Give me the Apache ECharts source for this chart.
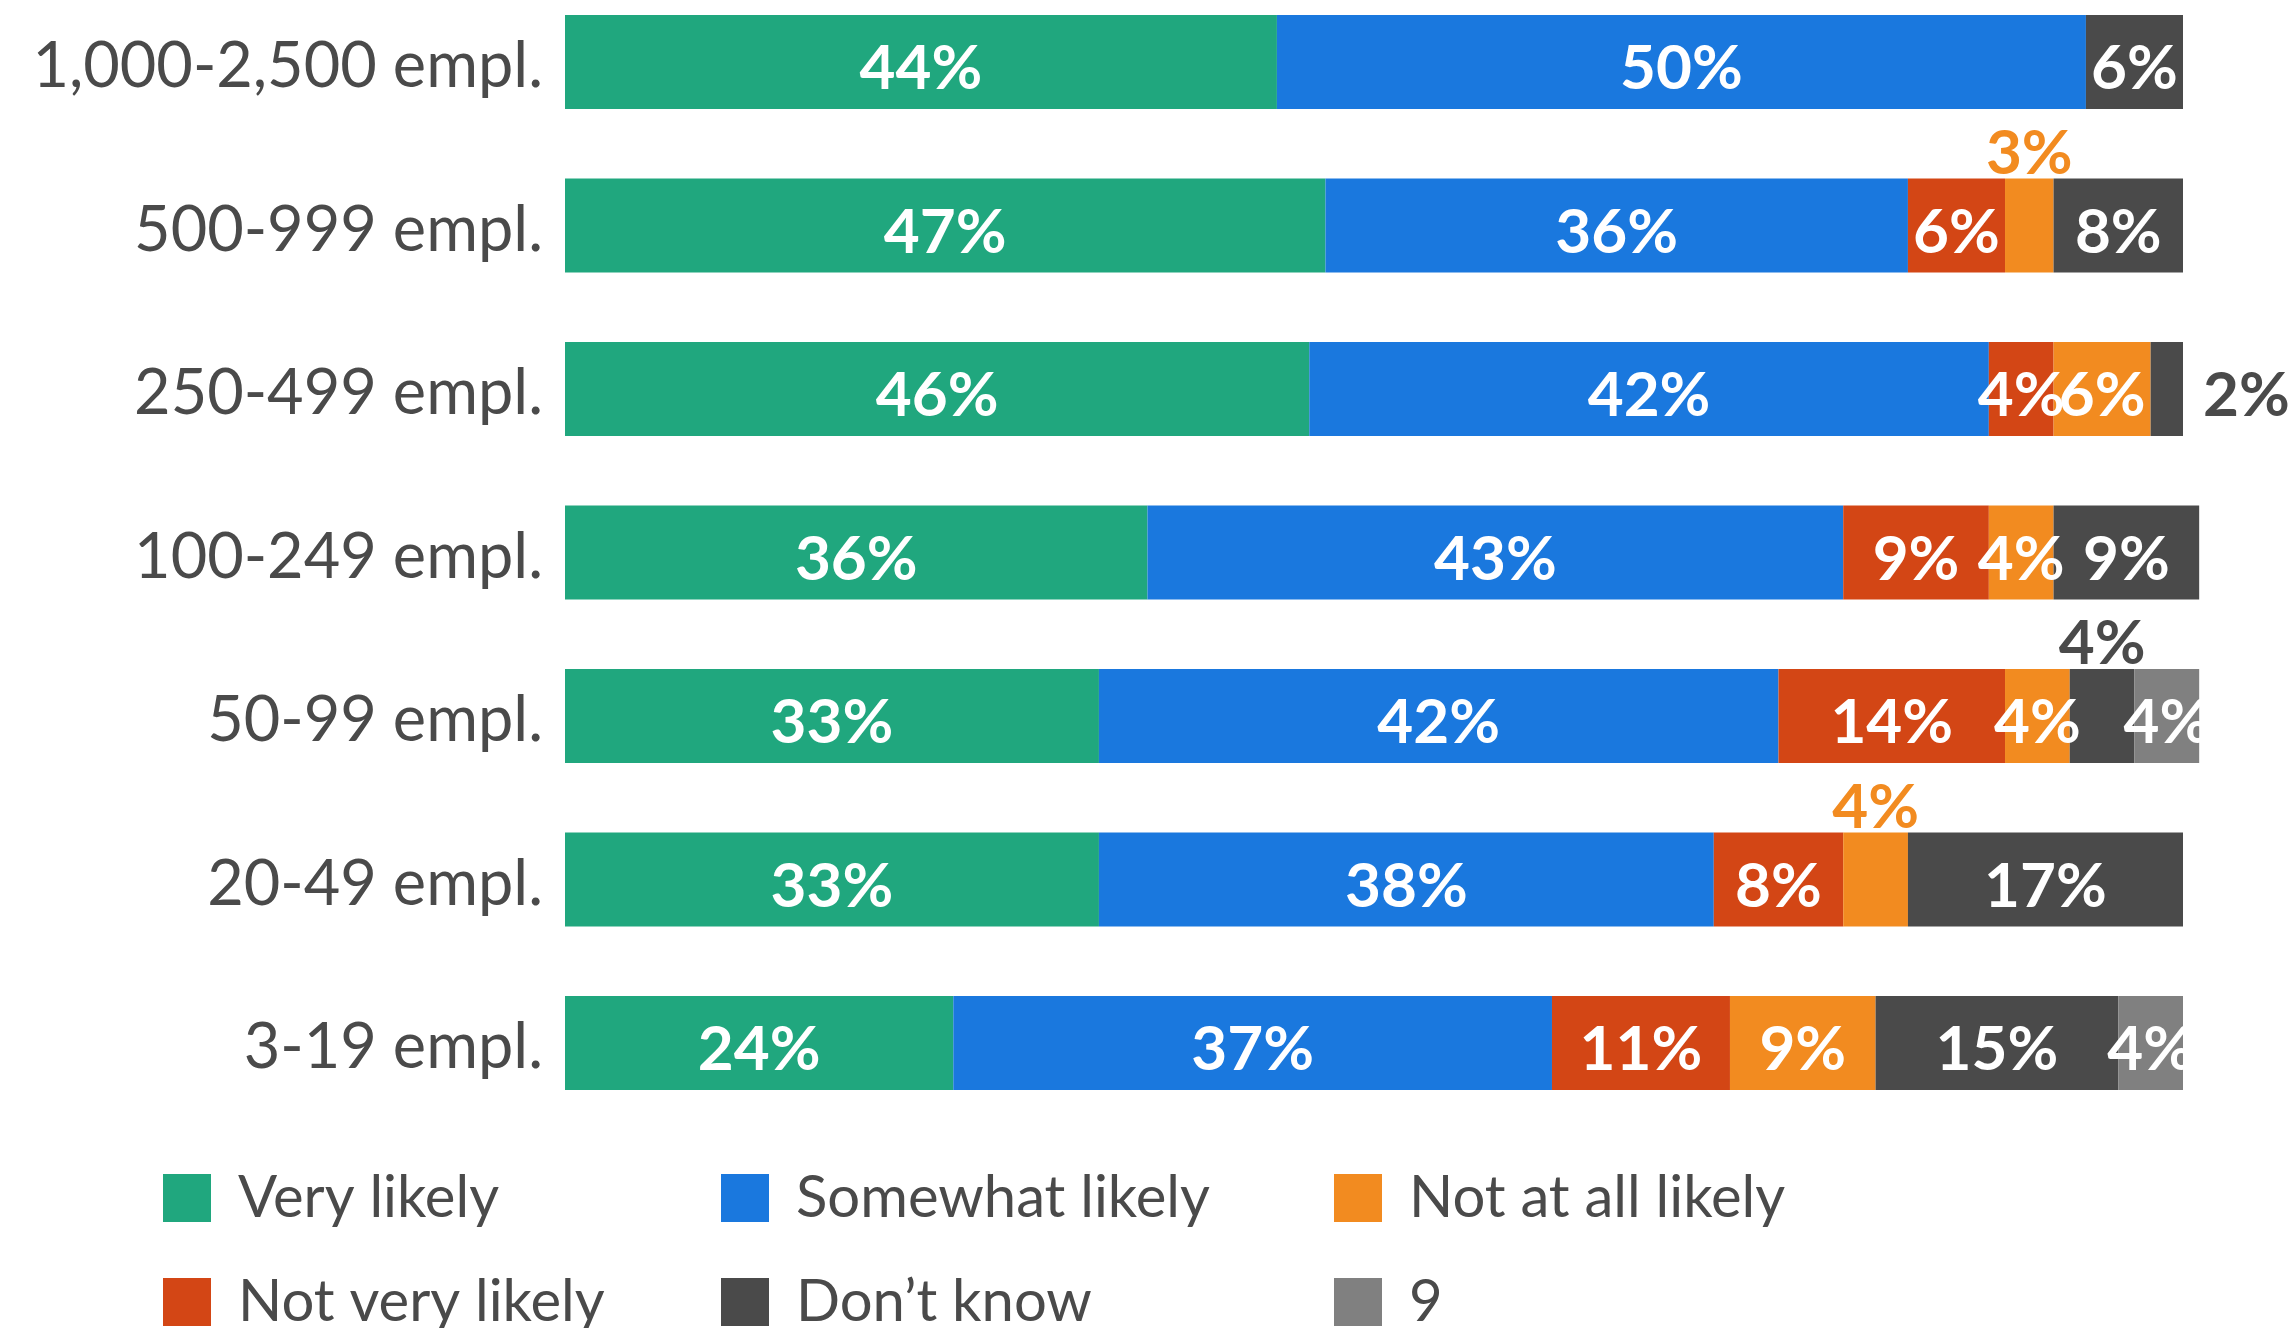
<!DOCTYPE html>
<html>
<head>
<meta charset="utf-8">
<script src="https://cdn.jsdelivr.net/npm/echarts@6/dist/echarts.min.js"></script>
<style>
  html, body { margin: 0; padding: 0; background: #ffffff; }
  #chart { width: 2295px; height: 1328px; }
</style>
</head>
<body>
<div id="chart"></div>
<script>
// Company size groups, top to bottom
const categories = ['1,000-2,500 empl.', '500-999 empl.', '250-499 empl.', '100-249 empl.', '50-99 empl.', '20-49 empl.', '3-19 empl.'];

// Share of answers per group (%); null = no answer in that group
const veryLikely     = [44, 47, 46, 36, 33, 33, 24];
const somewhatLikely = [50, 36, 42, 43, 42, 38, 37];
const notVeryLikely  = [null, 6, 4, 9, 14, 8, 11];
const notAtAllLikely = [null, 3, 6, 4, 4, 4, 9];
const dontKnow       = [6, 8, 2, 9, 4, 17, 15];
const nine           = [null, null, null, null, 4, null, 4];

const FONT = 'Lato';
const TEXT = '#4a4a4a';

// Stack order left to right
const seriesDefs = [
  { name: 'Very likely',       data: veryLikely,     color: '#20a77e' },
  { name: 'Somewhat likely',   data: somewhatLikely, color: '#1a78de' },
  { name: 'Not very likely',   data: notVeryLikely,  color: '#d34615' },
  { name: 'Not at all likely', data: notAtAllLikely, color: '#f28b20' },
  { name: 'Don\u2019t know',   data: dontKnow,       color: '#4a4a4a' },
  { name: '9',                 data: nine,           color: '#808080' }
];

// Narrow segments whose label sits outside the bar (row index -> position)
const outsideLabels = {
  'Not at all likely': { 1: 'top', 5: 'top' },
  'Don\u2019t know': { 2: 'right', 4: 'top' }
};

const series = seriesDefs.map(def => {
  const overrides = outsideLabels[def.name] || {};
  return {
    name: def.name,
    type: 'bar',
    stack: 'total',
    barWidth: 94,
    clip: false,
    itemStyle: { color: def.color },
    label: {
      show: true,
      position: 'inside',
      offset: [0, 7],
      formatter: p => (p.value == null ? '' : p.value + '%'),
      color: '#ffffff',
      fontFamily: FONT,
      fontWeight: 'bold',
      fontSize: 62
    },
    data: def.data.map((v, i) => {
      const pos = overrides[i];
      if (!pos || v == null) return v;
      return {
        value: v,
        label: {
          position: pos,
          distance: pos === 'top' ? -4 : 20,
          offset: pos === 'top' ? [0, 2] : [0, 7],
          color: def.name === 'Don\u2019t know' ? TEXT : def.color
        }
      };
    })
  };
});

// Legend laid out as a 3 x 2 grid
const legendCells = [
  { name: 'Very likely',       left: 163,  top: 1169 },
  { name: 'Somewhat likely',   left: 721,  top: 1169 },
  { name: 'Not at all likely', left: 1334, top: 1169 },
  { name: 'Not very likely',   left: 163,  top: 1273 },
  { name: 'Don\u2019t know',   left: 721,  top: 1273 },
  { name: '9',                 left: 1334, top: 1273 }
];

const legends = legendCells.map(c => ({
  data: [c.name],
  left: c.left,
  top: c.top,
  padding: 0,
  icon: 'rect',
  itemWidth: 48,
  itemHeight: 48,
  selectedMode: false,
  textStyle: {
    fontFamily: FONT,
    fontSize: 58,
    color: TEXT,
    padding: [0, 0, 0, 22]
  }
}));

const chart = echarts.init(document.getElementById('chart'), null, { renderer: 'canvas' });
chart.setOption({
  animation: false,
  backgroundColor: '#ffffff',
  legend: legends,
  // Row centres sit on the grid edges (boundaryGap off), 163.5 px apart
  grid: { left: 565, width: 1618, top: 62, height: 981, containLabel: false },
  xAxis: {
    type: 'value',
    min: 0,
    max: 100,
    show: false
  },
  yAxis: {
    type: 'category',
    data: categories,
    inverse: true,
    boundaryGap: false,
    axisLine: { show: false },
    axisTick: { show: false },
    splitLine: { show: false },
    axisLabel: {
      margin: 22,
      verticalAlign: 'top',
      lineHeight: 10,
      fontFamily: FONT,
      fontSize: 63,
      color: TEXT
    }
  },
  series: series
});
</script>
</body>
</html>
